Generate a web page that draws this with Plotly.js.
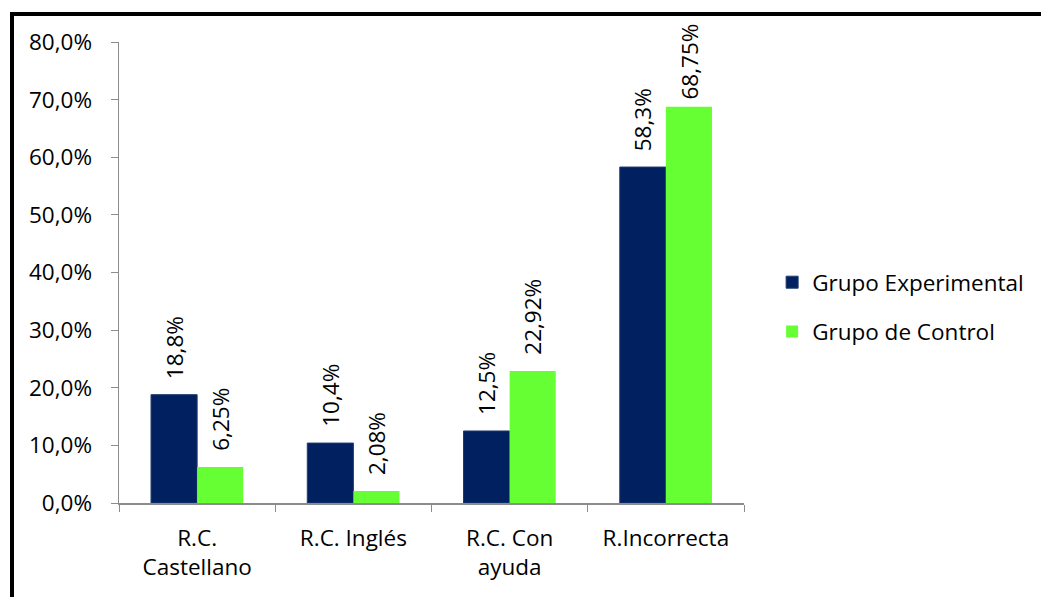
<!DOCTYPE html>
<html>
<head>
<meta charset="utf-8">
<script src="https://cdn.plot.ly/plotly-3.0.1.min.js"></script>
<style>
  html, body { margin: 0; padding: 0; background: #fff; }
  #frame { position: absolute; left: 10px; top: 12px; width: 1031px; height: 585px;
           border-left: 4px solid #000; border-top: 4px solid #000; box-sizing: border-box; }
  #chart { position: absolute; left: 0; top: 0; width: 1041px; height: 597px; }
</style>
</head>
<body>
<div id="frame"></div>
<div id="chart"></div>
<script>
// Response categories and percentages for each group
const categories = ["R.C.<br>Castellano", "R.C. Inglés", "R.C. Con<br>ayuda", "R.Incorrecta"];
const experimental = [18.8, 10.4, 12.5, 58.3];
const control = [6.25, 2.08, 22.92, 68.75];
const seriesNames = ["Grupo Experimental", "Grupo de Control"];
const yTicks = [0, 10, 20, 30, 40, 50, 60, 70, 80];

const fmt = (v, d) => v.toFixed(d).replace(".", ",") + "%";
const fontFamily = "'Open Sans', 'Noto Sans', sans-serif";
const fontSize = 22.5;
const labelFont = { family: fontFamily, size: fontSize, color: "#000" };

const margin = { l: 119, r: 294, t: 42, b: 94, pad: 0 };
const W = 1041, H = 597;
const bargap = 0.41;
const labelTopLimit = 22; // value labels are kept below this page y
// half of one bar's pixel width, used to centre each value label over its bar
const halfBar = ((W - margin.l - margin.r) / categories.length) * (1 - bargap) / 4;

const traces = [
  {
    type: "bar", name: seriesNames[0], x: categories, y: experimental,
    marker: { color: "#002060", line: { color: "#1f3a70", width: 1 } },
    legendgroup: "a", hoverinfo: "skip"
  },
  {
    type: "bar", name: seriesNames[1], x: categories, y: control,
    marker: { color: "#66FF33" },
    legendgroup: "b", hoverinfo: "skip"
  }
];

// Rotated value labels above each bar
const valueLabel = (cat, v, text, side) => ({
  x: cat, y: v, xref: "x", yref: "y", text: text, showarrow: false,
  textangle: -90, xanchor: "center", yanchor: "bottom",
  xshift: side * halfBar, yshift: 14, font: labelFont
});
const annotations = [
  ...categories.map((c, i) => valueLabel(c, experimental[i], fmt(experimental[i], 1), -1)),
  ...categories.map((c, i) => valueLabel(c, control[i], fmt(control[i], 2), 1))
];

const layout = {
  width: W, height: H, margin: margin,
  paper_bgcolor: "rgba(0,0,0,0)", plot_bgcolor: "rgba(0,0,0,0)",
  font: { family: fontFamily, size: fontSize, color: "#000" },
  barmode: "group", bargap: bargap, bargroupgap: 0,
  showlegend: true,
  legend: {
    x: 1.045, xanchor: "left", y: 0.425, yanchor: "middle",
    traceorder: "grouped", tracegroupgap: 17,
    font: { family: fontFamily, size: fontSize, color: "#000" },
    bgcolor: "rgba(0,0,0,0)"
  },
  annotations: annotations,
  xaxis: {
    type: "category", tickson: "boundaries", ticks: "outside", ticklen: 7,
    tickcolor: "#8c8c8c", showline: true, linecolor: "#8c8c8c", linewidth: 1.5,
    showgrid: false, zeroline: false, fixedrange: true, ticklabelstandoff: 14,
    tickfont: { family: fontFamily, size: fontSize, color: "#000" }
  },
  yaxis: {
    range: [0, 80], tickvals: yTicks, ticktext: yTicks.map(v => fmt(v, 1)),
    ticks: "outside", ticklen: 7, tickcolor: "#8c8c8c",
    showline: true, linecolor: "#8c8c8c", linewidth: 1.5,
    showgrid: false, zeroline: false, fixedrange: true, ticklabelstandoff: 14,
    tickfont: { family: fontFamily, size: fontSize, color: "#000" }
  }
};

Plotly.newPlot("chart", traces, layout, { staticPlot: true, displayModeBar: false }).then(gd => {
  // pull down any label that would run past the top of the chart area
  const nodes = gd.querySelectorAll(".annotation-text-g");
  const update = {};
  nodes.forEach((node, i) => {
    const top = node.getBoundingClientRect().top;
    if (top < labelTopLimit) {
      update["annotations[" + i + "].yshift"] = annotations[i].yshift - (labelTopLimit - top);
    }
  });
  if (Object.keys(update).length) Plotly.relayout(gd, update);
});
</script>
</body>
</html>
